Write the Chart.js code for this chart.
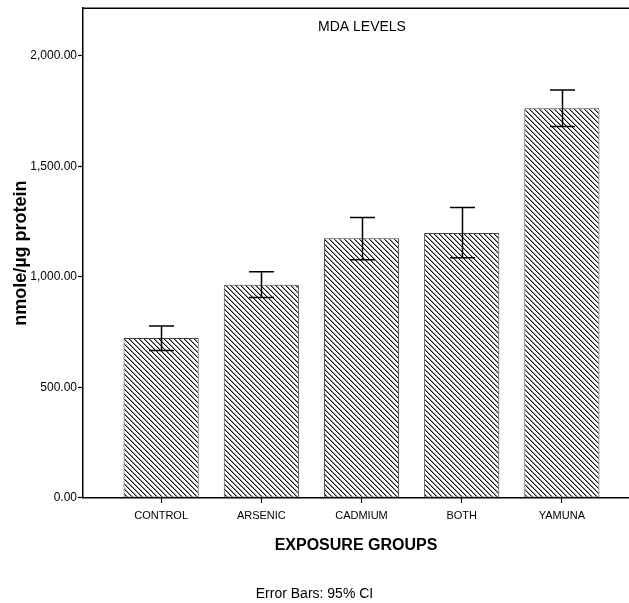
<!DOCTYPE html>
<html>
<head>
<meta charset="utf-8">
<script src="https://cdn.jsdelivr.net/npm/chart.js@4/dist/chart.umd.min.js"></script>
<style>
  html, body { margin: 0; padding: 0; background: #fff; }
  #wrap { width: 629px; height: 603px; }
</style>
</head>
<body>
<div id="wrap"><canvas id="c" width="629" height="603"></canvas></div>
<script>
// MDA levels by exposure group, mean with 95% confidence interval
const groups = ['CONTROL', 'ARSENIC', 'CADMIUM', 'BOTH', 'YAMUNA'];
const meanMDA = [723, 964, 1175, 1198, 1762];
const ciLower = [667, 907, 1077, 1086, 1680];
const ciUpper = [778, 1023, 1269, 1314, 1845];
const yTicks = [0, 500, 1000, 1500, 2000];

const narrow = "'Liberation Sans Narrow', 'Arial Narrow', 'Liberation Sans', Arial, sans-serif";
const sans = "'Liberation Sans', Arial, sans-serif";

// diagonal hatch fill for the bars
function makeHatch() {
  const size = 5;
  const t = document.createElement('canvas');
  t.width = size; t.height = size;
  const g = t.getContext('2d');
  g.fillStyle = '#ffffff';
  g.fillRect(0, 0, size, size);
  for (let i = 0; i < size; i++) {
    g.fillStyle = '#111';
    g.fillRect(i, i, 1, 1);
    g.fillStyle = 'rgba(0,0,0,0.4)';
    g.fillRect((i + 1) % size, i, 1, 1);
  }
  return document.getElementById('c').getContext('2d').createPattern(t, 'repeat');
}

// frame line, error bars and the inner heading
const extras = {
  id: 'extras',
  afterDatasetsDraw(chart) {
    const { ctx, chartArea, scales } = chart;
    const x = scales.x, y = scales.y;
    ctx.save();
    ctx.strokeStyle = '#000';
    ctx.lineWidth = 1.5;
    ctx.beginPath();
    ctx.moveTo(chartArea.left, chartArea.top);
    ctx.lineTo(chartArea.right + 1, chartArea.top);
    ctx.stroke();

    const cap = 12.5;
    groups.forEach((_, i) => {
      const px = Math.round(x.getPixelForValue(i)) + 0.5;
      const lo = y.getPixelForValue(ciLower[i]);
      const hi = y.getPixelForValue(ciUpper[i]);
      ctx.lineWidth = 1.5;
      ctx.beginPath();
      ctx.moveTo(px, lo); ctx.lineTo(px, hi);
      ctx.moveTo(px - cap, hi); ctx.lineTo(px + cap, hi);
      ctx.moveTo(px - cap, lo); ctx.lineTo(px + cap, lo);
      ctx.stroke();
    });

    ctx.fillStyle = '#000';
    ctx.font = "14px " + narrow;
    ctx.textAlign = 'center';
    ctx.textBaseline = 'middle';
    ctx.fillText('MDA LEVELS', (chartArea.left + chartArea.right) / 2 + 6, chartArea.top + 19);
    ctx.restore();
  }
};

new Chart(document.getElementById('c'), {
  type: 'bar',
  data: {
    datasets: [{
      data: groups.map((g, i) => ({ x: i, y: meanMDA[i] })),
      backgroundColor: makeHatch(),
      borderColor: '#444',
      borderWidth: 1,
      borderSkipped: false,
      barPercentage: 0.75,
      categoryPercentage: 1
    }]
  },
  options: {
    responsive: false,
    animation: false,
    layout: { padding: { top: 6, right: 0, left: 0, bottom: 0 } },
    plugins: {
      legend: { display: false },
      tooltip: { enabled: false },
      title: {
        display: true,
        position: 'bottom',
        text: 'Error Bars: 95% CI',
        color: '#000',
        font: { family: narrow, size: 14, weight: 'normal' },
        padding: { top: 0, bottom: 0 }
      }
    },
    scales: {
      x: {
        type: 'linear',
        offset: false,
        min: -0.78,
        max: 4.67,
        afterBuildTicks(s) { s.ticks = groups.map((_, i) => ({ value: i })); },
        afterFit(s) { s.height = 603 - 16.8 - 498; },
        ticks: {
          color: '#000',
          padding: 6,
          maxRotation: 0,
          autoSkip: false,
          font: { family: narrow, size: 11 },
          callback: v => groups[v]
        },
        grid: { offset: false, drawOnChartArea: false, tickLength: 5, color: '#000', tickWidth: 1.2 },
        border: { display: true, color: '#000', width: 1.5 },
        title: {
          display: true,
          text: 'EXPOSURE GROUPS',
          color: '#000',
          font: { family: sans, size: 16, weight: 'bold' },
          padding: { top: 0, bottom: 31 }
        }
      },
      y: {
        min: 0,
        max: 2215,
        afterBuildTicks(s) { s.ticks = yTicks.map(v => ({ value: v })); },
        afterFit(s) { s.width = 83; },
        ticks: {
          color: '#000',
          padding: 1,
          font: { family: narrow, size: 12 },
          callback: v => v.toLocaleString('en-US', { minimumFractionDigits: 2, maximumFractionDigits: 2 })
        },
        grid: { drawOnChartArea: false, tickLength: 5, color: '#000', tickWidth: 1.2 },
        border: { display: true, color: '#000', width: 1.5 },
        title: {
          display: true,
          text: 'nmole/µg protein',
          color: '#000',
          font: { family: sans, size: 18, weight: 'bold' },
          padding: { top: 10, bottom: 0 }
        }
      }
    }
  },
  plugins: [extras]
});
</script>
</body>
</html>
